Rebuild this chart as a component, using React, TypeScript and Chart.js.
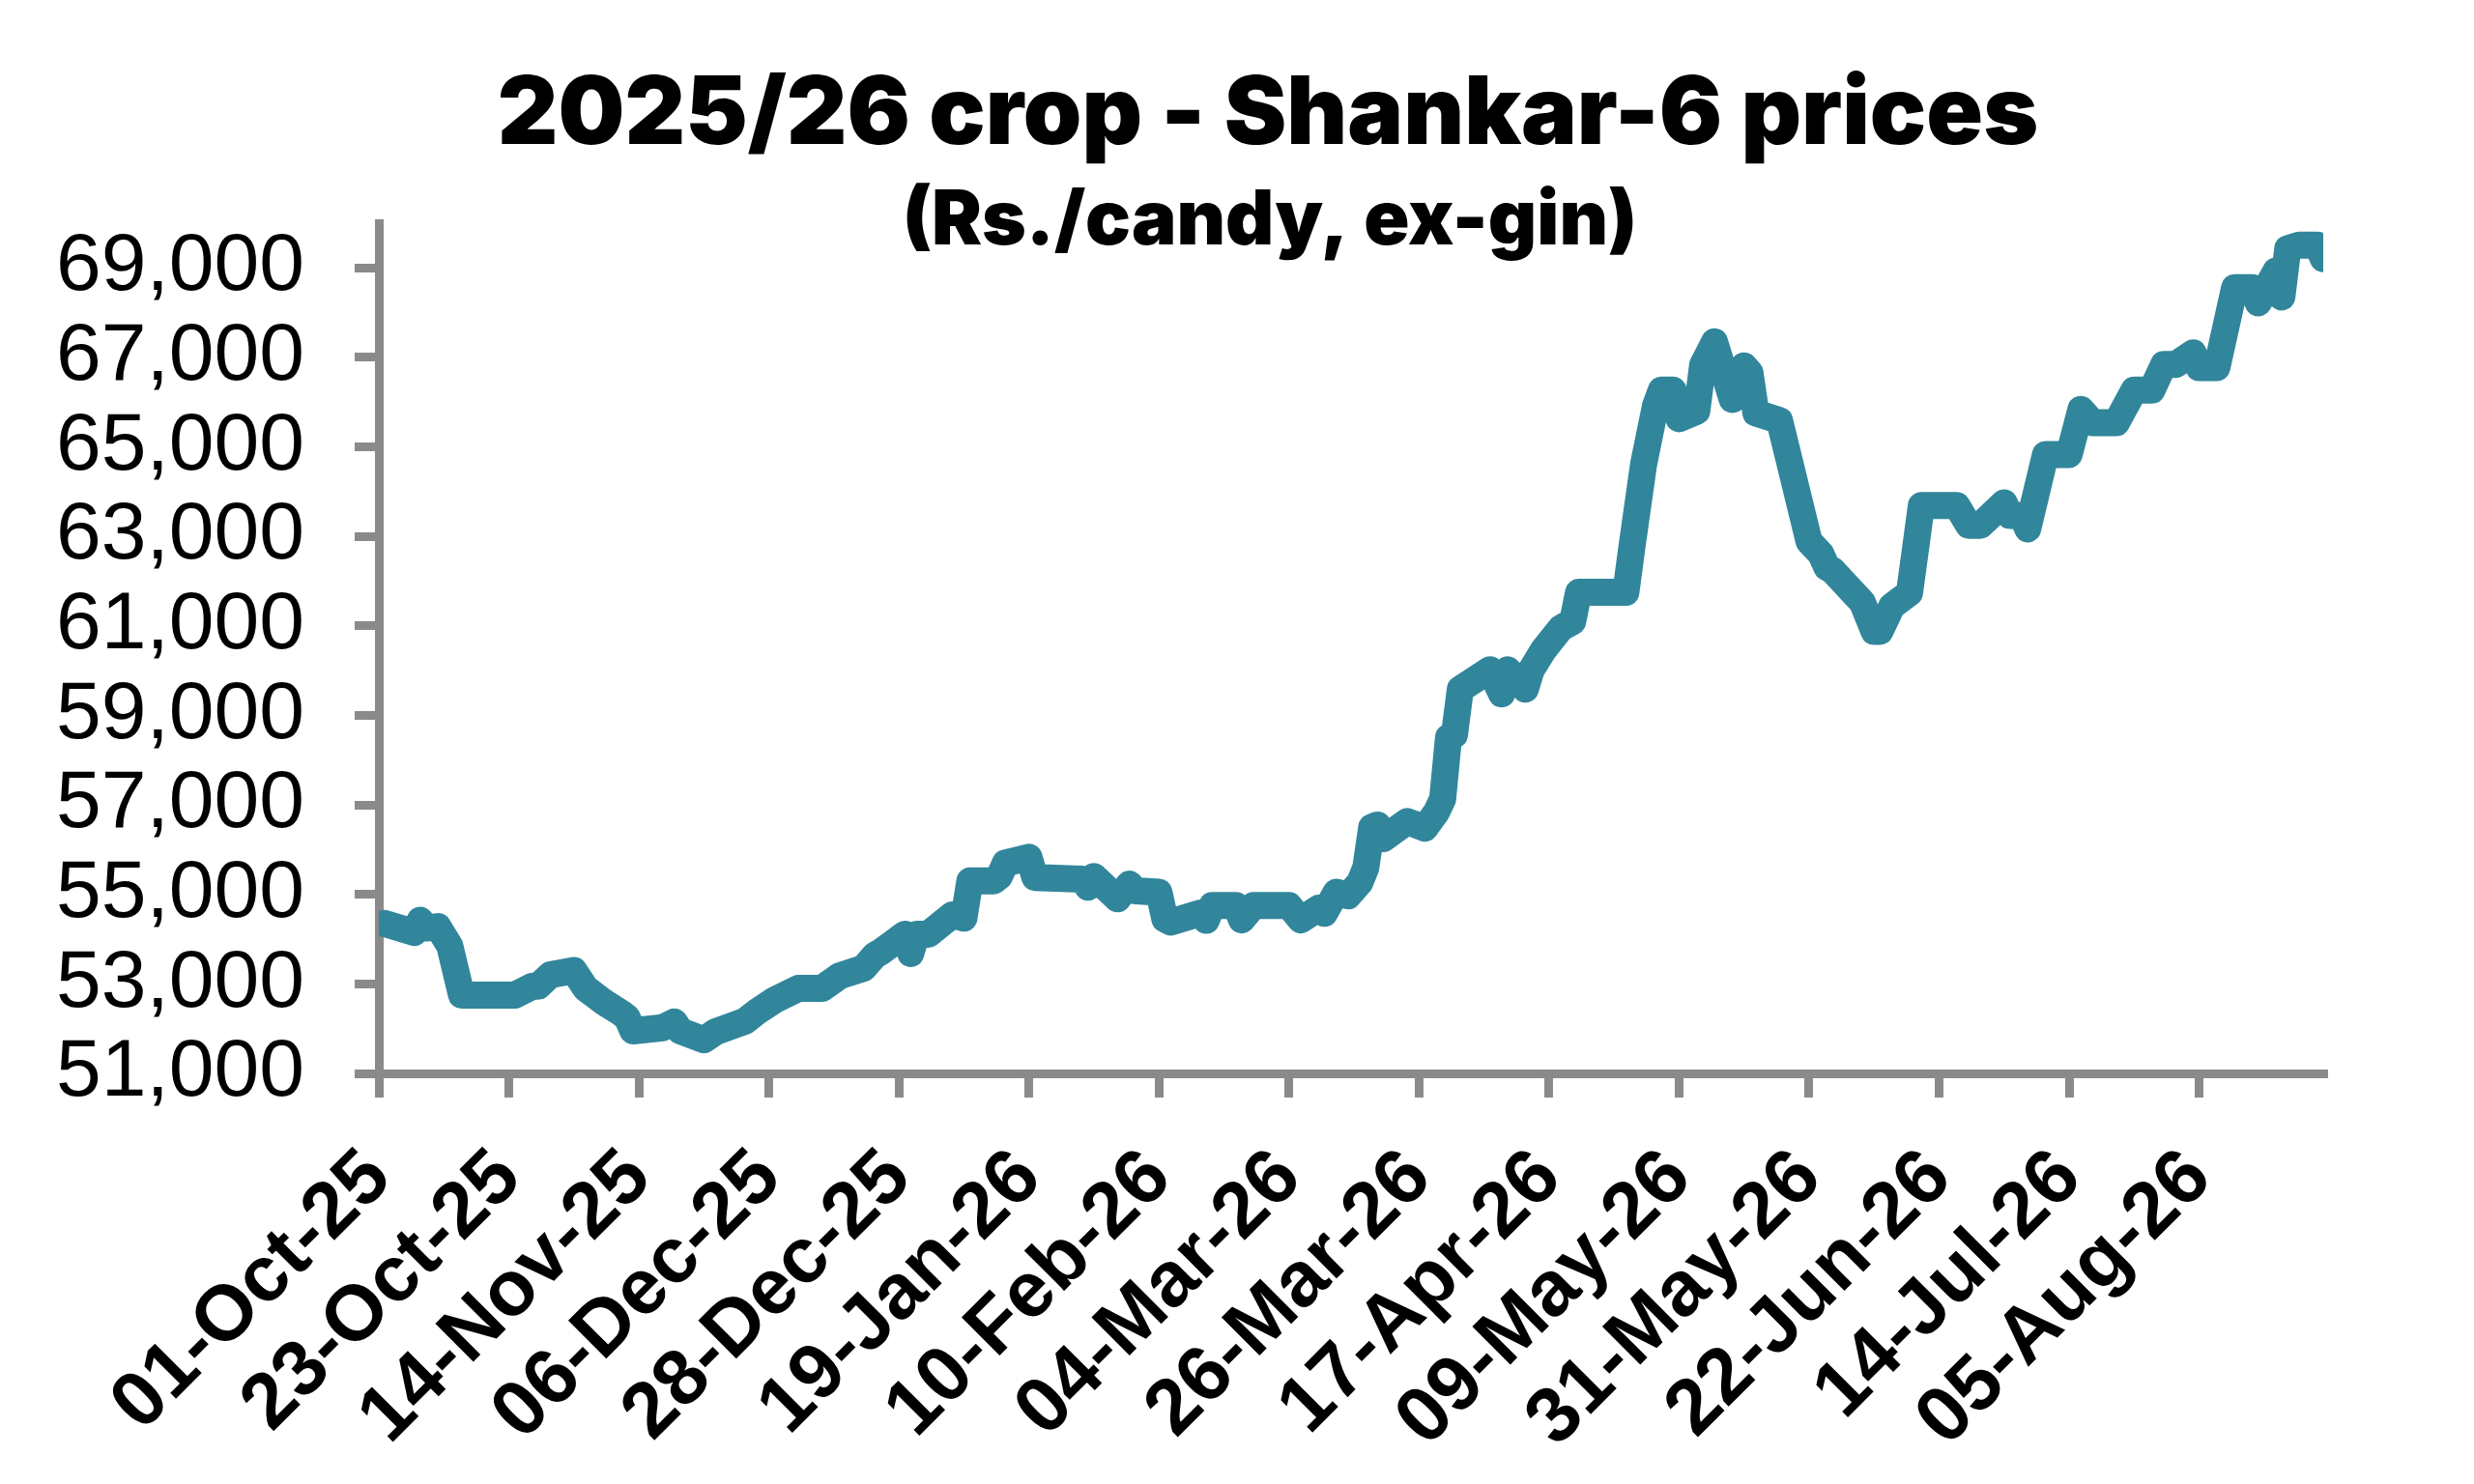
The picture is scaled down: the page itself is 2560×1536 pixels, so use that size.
import React, { useEffect, useRef } from 'react'
import { Chart, registerables } from 'chart.js'

Chart.register(...registerables)

// ---------------------------------------------------------------------------
// data
// ---------------------------------------------------------------------------

const startDate = '2025-10-01'
const endDate = '2026-08-26'

const priceDates = [
  '2025-10-02', '2025-10-07', '2025-10-08', '2025-10-09', '2025-10-11', '2025-10-13',
  '2025-10-15', '2025-10-24', '2025-10-27', '2025-10-28', '2025-10-30', '2025-11-03',
  '2025-11-05', '2025-11-08', '2025-11-11', '2025-11-12', '2025-11-13', '2025-11-18',
  '2025-11-20', '2025-11-21', '2025-11-25', '2025-11-27', '2025-12-02', '2025-12-04',
  '2025-12-07', '2025-12-11', '2025-12-15', '2025-12-18', '2025-12-22', '2025-12-24',
  '2025-12-25', '2025-12-29', '2025-12-30', '2025-12-31', '2026-01-02', '2026-01-06',
  '2026-01-08', '2026-01-09', '2026-01-13', '2026-01-14', '2026-01-15', '2026-01-19',
  '2026-01-20', '2026-01-28', '2026-01-29', '2026-01-30', '2026-02-03', '2026-02-05',
  '2026-02-06', '2026-02-10', '2026-02-11', '2026-02-12', '2026-02-17', '2026-02-18',
  '2026-02-19', '2026-02-23', '2026-02-24', '2026-02-26', '2026-03-04', '2026-03-06',
  '2026-03-09', '2026-03-10', '2026-03-12', '2026-03-14', '2026-03-16', '2026-03-17',
  '2026-03-18', '2026-03-19', '2026-03-20', '2026-03-24', '2026-03-27', '2026-03-29',
  '2026-03-30', '2026-03-31', '2026-04-01', '2026-04-02', '2026-04-07', '2026-04-09',
  '2026-04-10', '2026-04-13', '2026-04-14', '2026-04-16', '2026-04-19', '2026-04-21',
  '2026-04-22', '2026-04-30', '2026-05-01', '2026-05-03', '2026-05-05', '2026-05-06',
  '2026-05-08', '2026-05-09', '2026-05-12', '2026-05-13', '2026-05-15', '2026-05-18',
  '2026-05-20', '2026-05-21', '2026-05-22', '2026-05-26', '2026-05-31', '2026-06-02',
  '2026-06-03', '2026-06-04', '2026-06-07', '2026-06-09', '2026-06-11', '2026-06-12',
  '2026-06-14', '2026-06-17', '2026-06-19', '2026-06-25', '2026-06-27', '2026-06-29',
  '2026-07-03', '2026-07-04', '2026-07-06', '2026-07-07', '2026-07-10', '2026-07-14',
  '2026-07-16', '2026-07-18', '2026-07-22', '2026-07-25', '2026-07-28', '2026-07-30',
  '2026-08-01', '2026-08-04', '2026-08-05', '2026-08-08', '2026-08-11', '2026-08-14',
  '2026-08-15', '2026-08-18', '2026-08-19', '2026-08-20', '2026-08-22', '2026-08-25',
  '2026-08-26',
]

const priceValues = [
  54350, 54150, 54420, 54250, 54280, 53850,
  52750, 52750, 52950, 52950, 53200, 53300,
  52900, 52600, 52350, 52250, 51950, 52020,
  52150, 51950, 51750, 51930, 52170, 52380,
  52640, 52900, 52900, 53180, 53350, 53650,
  53720, 54110, 53680, 54110, 54110, 54540,
  54470, 55300, 55300, 55400, 55700, 55830,
  55380, 55340, 55160, 55400, 54900, 55230,
  55080, 55050, 54450, 54380, 54580, 54420,
  54750, 54750, 54430, 54750, 54750, 54430,
  54690, 54580, 55050, 54970, 55270, 55600,
  56500, 56550, 56250, 56630, 56480, 56850,
  57130, 58510, 58570, 59590, 60020, 59480,
  60020, 59590, 60020, 60450, 60950, 61100,
  61750, 61750, 62740, 64610, 65910, 66270,
  66270, 65630, 65800, 66830, 67350, 66060,
  66810, 66660, 65760, 65590, 62890, 62610,
  62310, 62240, 61810, 61530, 60880, 60880,
  61440, 61740, 63690, 63690, 63250, 63250,
  63750, 63470, 63470, 63170, 64830, 64830,
  65840, 65540, 65540, 66270, 66270, 66840,
  66840, 67100, 66770, 66770, 68560, 68560,
  68220, 68930, 68350, 69430, 69510, 69510,
  69210,
]

const xTickLabels = [
  '01-Oct-25', '23-Oct-25', '14-Nov-25', '06-Dec-25', '28-Dec-25', '19-Jan-26',
  '10-Feb-26', '04-Mar-26', '26-Mar-26', '17-Apr-26', '09-May-26', '31-May-26',
  '22-Jun-26', '14-Jul-26', '05-Aug-26',
]

const yTickValues = [51000, 53000, 55000, 57000, 59000, 61000, 63000, 65000, 67000, 69000]
const yMin = 51000
const yMax = 70000

const chartTitle = '2025/26 crop - Shankar-6 prices'
const chartSubtitle = '(Rs./candy, ex-gin)'

// ---------------------------------------------------------------------------
// date helpers (x axis is linear in days since startDate)
// ---------------------------------------------------------------------------

const MONTHS = ['Jan', 'Feb', 'Mar', 'Apr', 'May', 'Jun', 'Jul', 'Aug', 'Sep', 'Oct', 'Nov', 'Dec']
const DAY_MS = 86400000
const startMs = Date.parse(startDate + 'T00:00:00Z')

const isoToDay = (iso: string) => Math.round((Date.parse(iso + 'T00:00:00Z') - startMs) / DAY_MS)

const labelToDay = (label: string) => {
  const [dd, mon, yy] = label.split('-')
  return Math.round((Date.UTC(2000 + Number(yy), MONTHS.indexOf(mon), Number(dd)) - startMs) / DAY_MS)
}

const dayToLabel = (day: number) => {
  const d = new Date(startMs + day * DAY_MS)
  const dd = String(d.getUTCDate()).padStart(2, '0')
  const yy = String(d.getUTCFullYear()).slice(2)
  return `${dd}-${MONTHS[d.getUTCMonth()]}-${yy}`
}

const AXIS_GREY = '#8a8a8a'
const LINE_TEAL = '#31869b'

// title + subtitle sit partly over the plot, so they are painted by hand
const headingPlugin = {
  id: 'heading',
  afterDraw(chart: Chart) {
    const { ctx } = chart
    ctx.save()
    ctx.fillStyle = '#000'
    ctx.textAlign = 'center'
    ctx.textBaseline = 'alphabetic'
    ctx.font = '900 97px Inter, Lato, "DejaVu Sans", sans-serif'
    ctx.fillText(chartTitle, 1312, 149)
    ctx.font = '900 78px Inter, Lato, "DejaVu Sans", sans-serif'
    ctx.fillText(chartSubtitle, 1314, 253)
    ctx.restore()
  },
}

export default function App() {
  const canvasRef = useRef<HTMLCanvasElement>(null)

  useEffect(() => {
    document.body.style.margin = '0'
    if (!canvasRef.current) return

    const points = priceDates.map((iso, i) => ({ x: isoToDay(iso), y: priceValues[i] }))
    const xTicks = xTickLabels.map(labelToDay)

    const chart = new Chart(canvasRef.current, {
      type: 'line',
      data: {
        datasets: [
          {
            label: 'Shankar-6',
            data: points,
            borderColor: LINE_TEAL,
            borderWidth: 28,
            borderJoinStyle: 'round',
            borderCapStyle: 'round',
            pointRadius: 0,
            tension: 0,
            fill: false,
          },
        ],
      },
      options: {
        animation: false,
        responsive: true,
        maintainAspectRatio: false,
        layout: { padding: { top: 231, left: 0, right: 156, bottom: 0 } },
        plugins: {
          legend: { display: false },
          tooltip: { enabled: false },
          title: { display: false },
        },
        scales: {
          x: {
            type: 'linear',
            min: 0,
            max: isoToDay(endDate),
            afterBuildTicks: (scale: any) => {
              scale.ticks = xTicks.map((v) => ({ value: v }))
            },
            afterFit: (scale: any) => {
              scale.height = 425
            },
            grid: {
              drawOnChartArea: false,
              drawTicks: true,
              tickLength: 25,
              color: AXIS_GREY,
              lineWidth: 9,
            },
            border: { display: true, color: AXIS_GREY, width: 9 },
            ticks: {
              autoSkip: false,
              minRotation: 45,
              maxRotation: 45,
              padding: 36,
              color: '#000',
              font: { family: '"Liberation Sans", Arial, sans-serif', size: 81, weight: 'bold' },
              callback: (value: any) => dayToLabel(Number(value)),
            },
          },
          y: {
            type: 'linear',
            min: yMin,
            max: yMax,
            afterBuildTicks: (scale: any) => {
              scale.ticks = yTickValues.map((v) => ({ value: v }))
            },
            afterFit: (scale: any) => {
              scale.width = 392
            },
            grid: {
              drawOnChartArea: false,
              drawTicks: true,
              tickLength: 25,
              color: AXIS_GREY,
              lineWidth: 9,
            },
            border: { display: true, color: AXIS_GREY, width: 9 },
            ticks: {
              autoSkip: false,
              padding: 52,
              color: '#000',
              font: { family: '"Liberation Sans", Arial, sans-serif', size: 84 },
              callback: (value: any) => Number(value).toLocaleString('en-US'),
            },
          },
        },
      },
      plugins: [headingPlugin],
    })

    return () => {
      chart.destroy()
    }
  }, [])

  return (
    <div style={{ position: 'relative', width: 2560, height: 1536, background: '#fff' }}>
      <canvas ref={canvasRef}></canvas>
    </div>
  )
}
